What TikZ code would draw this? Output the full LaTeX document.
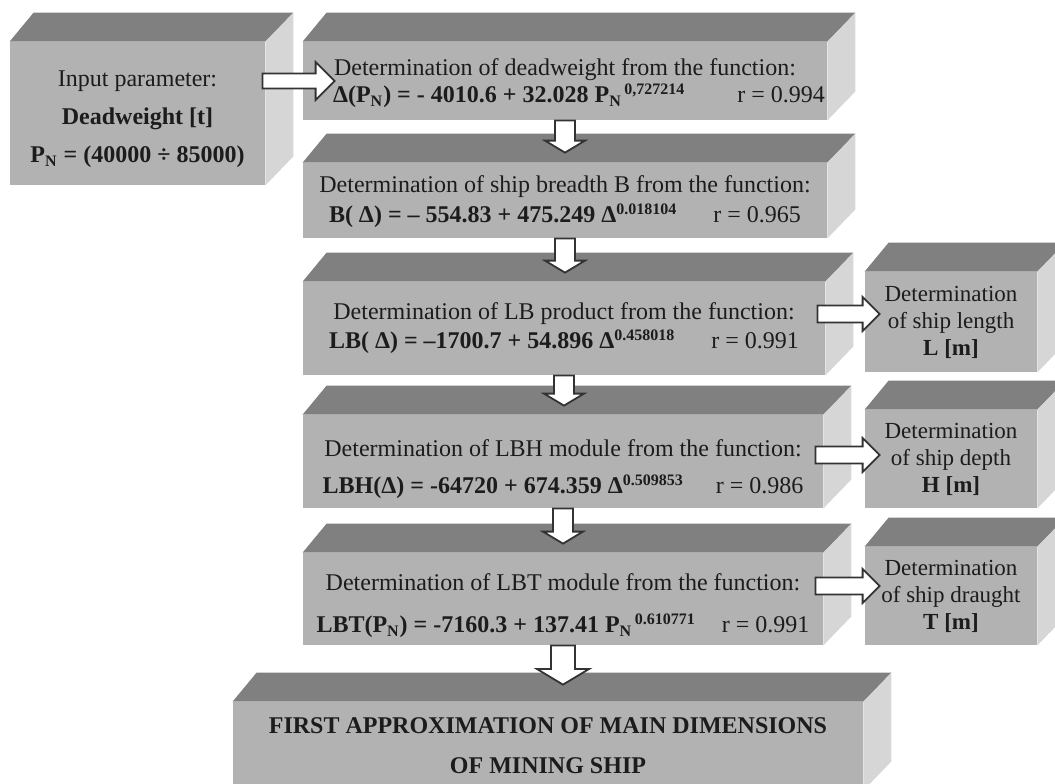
\documentclass[tikz,border=0pt]{standalone}
\usepackage{fontspec}
\setmainfont{Liberation Serif}
\usetikzlibrary{calc}

\definecolor{frontgray}{RGB}{178,178,178}
\definecolor{topgray}{RGB}{128,128,128}
\definecolor{sidegray}{RGB}{214,214,214}
\definecolor{textgray}{RGB}{28,28,28}

% strut that pushes a box text down
\newcommand\lift[1]{\rule{0pt}{#1}}
% hollow block arrows: from, to, shaft half, head half, tip gap
\newcommand\arrdown[5]{%
  \draw[hollow] let \p1=(#1.south), \p2=(#2.north) in
    (\x1-#3,\y1) -- (\x1-#3,\y2+#5+0.6*#4) -- (\x1-#4,\y2+#5+0.6*#4) -- (\x1,\y2+#5)
    -- (\x1+#4,\y2+#5+0.6*#4) -- (\x1+#3,\y2+#5+0.6*#4) -- (\x1+#3,\y1) -- cycle;}
% from, to, back, overrun, shaft half, head half, lift
\newcommand\arrright[7]{%
  \draw[hollow] let \p1=(#1.east), \p2=(#2.west) in
    (\x1-#3,\y2+#7+#5) -- (\x2+#4-#6,\y2+#7+#5) -- (\x2+#4-#6,\y2+#7+#6) -- (\x2+#4,\y2+#7)
    -- (\x2+#4-#6,\y2+#7-#6) -- (\x2+#4-#6,\y2+#7-#5) -- (\x1-#3,\y2+#7-#5) -- cycle;}

\begin{document}
\begin{tikzpicture}[x=0.5pt,y=-0.5pt,
  cube/.style={fill=frontgray, inner sep=0pt, align=center, text=textgray,
    font=\fontsize{12}{14}\selectfont},
  side/.style={cube, font=\fontsize{11.5}{14}\selectfont},
  hollow/.style={draw=black!80, fill=white, line width=0.9pt, line join=miter}]
\useasboundingbox (0,0) rectangle (1055,783);

% front faces
\node[cube, minimum width=127.5pt, minimum height=71.5pt] (inp) at (137.5,113.5)
  {\lift{13.5pt}Input parameter:\\[5pt] \textbf{Deadweight [t]}\\[5pt]
   \textbf{P\textsubscript{N} = (40000 ÷ 85000)}};
\node[cube, minimum width=262pt, minimum height=39pt] (dw) at (565,81)
  {\lift{11pt}Determination of deadweight from the function:\\[-0.5pt]
   \hspace{14pt}\textbf{Δ(P\textsubscript{N}) = - 4010.6 + 32.028 P\textsubscript{N}\textsuperscript{\,0,727214}}\hspace{26pt}r = 0.994};
\node[cube, minimum width=262pt, minimum height=37.5pt] (br) at (565,200.5)
  {\lift{10pt}Determination of ship breadth B from the function:\\[1pt]
   \textbf{B( Δ) = – 554.83 + 475.249 Δ\textsuperscript{0.018104}}\hspace{18pt}r = 0.965};
\node[cube, minimum width=261pt, minimum height=46.5pt] (lb) at (564,328.5)
  {Determination of LB product from the function:\\[0.5pt]
   \textbf{LB( Δ) = –1700.7 + 54.896 Δ\textsuperscript{0.458018}}\hspace{18pt}r = 0.991};
\node[cube, minimum width=260pt, minimum height=46.5pt] (lbh) at (563,461.5)
  {\lift{16.5pt}Determination of LBH module from the function:\\[4.5pt]
   \textbf{LBH(Δ) = -64720 + 674.359 Δ\textsuperscript{0.509853}}\hspace{16pt}r = 0.986};
\node[cube, minimum width=260pt, minimum height=46pt] (lbt) at (563,599)
  {\lift{15.5pt}Determination of LBT module from the function:\\[7pt]
   \textbf{LBT(P\textsubscript{N}) = -7160.3 + 137.41 P\textsubscript{N}\textsuperscript{\,0.610771}}\hspace{13pt}r = 0.991};
\node[side, minimum width=86pt, minimum height=50pt] (ln) at (951,322)
  {Determination\\[-0.5pt] of ship length\\[-0.5pt] \textbf{L [m]}};
\node[side, minimum width=86pt, minimum height=49pt] (dp) at (951,459)
  {Determination\\[-0.5pt] of ship depth\\[-0.5pt] \textbf{H [m]}};
\node[side, minimum width=86pt, minimum height=49pt] (dr) at (951,596)
  {Determination\\[-0.5pt] of ship draught\\[-0.5pt] \textbf{T [m]}};
\node[cube, minimum width=315pt, minimum height=44pt] (fin) at (548,746)
  {\textbf{FIRST APPROXIMATION OF MAIN DIMENSIONS}\\[6pt] \textbf{OF MINING SHIP}};

% top and side faces
\foreach \bx in {inp,dw,br,lb,lbh,lbt,ln,dp,dr,fin}{
  \fill[topgray] (\bx.north west) -- ++(24,-29) -- ([shift={(28,-29)}]\bx.north east)
    -- (\bx.north east) -- cycle;
  \fill[sidegray] (\bx.north east) -- ++(28,-29) -- ([shift={(28,-29)}]\bx.south east)
    -- (\bx.south east) -- cycle;
}

% arrows
\arrright{inp}{dw}{1.5pt}{16pt}{3.75pt}{9.5pt}{0pt}
\arrdown{dw}{br}{5pt}{10pt}{5pt}
\arrdown{br}{lb}{5pt}{10pt}{4.5pt}
\arrdown{lb}{lbh}{5pt}{10pt}{4.5pt}
\arrdown{lbh}{lbt}{5pt}{10pt}{4.5pt}
\arrdown{lbt}{fin}{6pt}{13pt}{8.5pt}
\arrright{lb}{ln}{4pt}{7.5pt}{4.25pt}{8.5pt}{4pt}
\arrright{lbh}{dp}{4pt}{7.5pt}{4.25pt}{8.5pt}{2pt}
\arrright{lbt}{dr}{4pt}{7.5pt}{4.25pt}{8.5pt}{5pt}
\end{tikzpicture}
\end{document}
